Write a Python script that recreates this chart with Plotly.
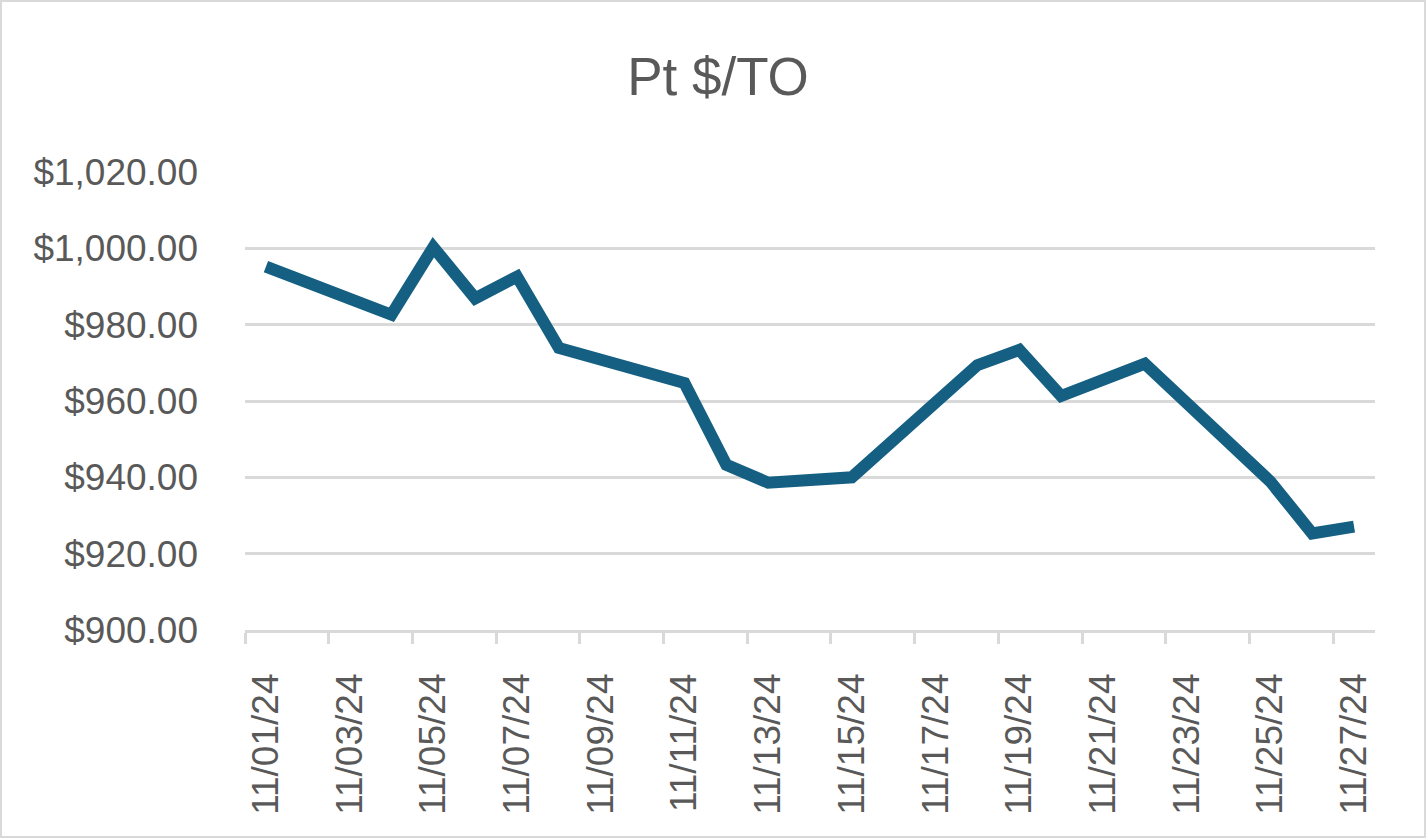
import plotly.graph_objects as go

dates = ["2024-11-01", "2024-11-04", "2024-11-05", "2024-11-06", "2024-11-07",
         "2024-11-08", "2024-11-11", "2024-11-12", "2024-11-13", "2024-11-14",
         "2024-11-15", "2024-11-18", "2024-11-19", "2024-11-20", "2024-11-21",
         "2024-11-22", "2024-11-25", "2024-11-26", "2024-11-27"]
prices = [995.2, 982.6, 1000.3, 986.9, 992.6,
          973.9, 964.7, 943.3, 938.6, 939.2,
          940.0, 969.4, 973.4, 961.3, 965.6,
          969.8, 938.9, 925.3, 927.1]
tick_dates = ["2024-11-%02d" % d for d in range(1, 28, 2)]
title_text = "Pt $/TO"

LINE = "#156082"
TXT = "#595959"
GRID = "#D9D9D9"
FONT = "Liberation Sans, Arial, sans-serif"

W, H = 1426, 838
ml, mr, mt, mb = 245, 51, 172, 208

fig = go.Figure()
fig.add_trace(go.Scatter(
    x=dates, y=prices, mode="lines",
    line=dict(color=LINE, width=12),
    hoverinfo="skip", showlegend=False,
))

fig.update_layout(
    width=W, height=H,
    margin=dict(l=ml, r=mr, t=mt, b=mb, pad=0),
    paper_bgcolor="white", plot_bgcolor="white",
    font=dict(family=FONT, color=TXT),
    title=dict(text=title_text, x=718 / W, xref="container", xanchor="center",
               y=1 - 76 / H, yref="container", yanchor="middle",
               font=dict(size=53, color=TXT, family=FONT)),
    showlegend=False,
)

fig.update_xaxes(
    type="date",
    range=["2024-10-31 12:00", "2024-11-27 12:00"],
    tickmode="array", tickvals=tick_dates, tickformat="%m/%d/%y",
    tickangle=-90, tickfont=dict(size=37, color=TXT, family=FONT),
    ticks="", ticklabelstandoff=26,
    showgrid=False, zeroline=False,
    showline=True, linecolor=GRID, linewidth=2.5,
    minor=dict(ticks="outside", ticklen=11, tickwidth=2.5, tickcolor=GRID,
               tick0="2024-10-31 12:00", dtick=2 * 86400000, showgrid=False),
    fixedrange=True,
)
fig.update_yaxes(
    range=[900, 1020], dtick=20, tick0=900, tickformat="$,.2f",
    tickfont=dict(size=37, color=TXT, family=FONT),
    ticks="", ticklabelstandoff=46,
    showgrid=True, gridcolor=GRID, gridwidth=2.5,
    zeroline=False, showline=False,
    fixedrange=True,
)

# chart-area border
pw, ph = W - ml - mr, H - mt - mb
fig.add_shape(type="rect", xref="paper", yref="paper",
              x0=(1 - ml) / pw, x1=1 + (mr - 1) / pw,
              y0=-(mb - 1) / ph, y1=1 + (mt - 1) / ph,
              line=dict(color=GRID, width=2), fillcolor="rgba(0,0,0,0)",
              layer="below")

fig.write_html("out.html", config={"displayModeBar": False})
